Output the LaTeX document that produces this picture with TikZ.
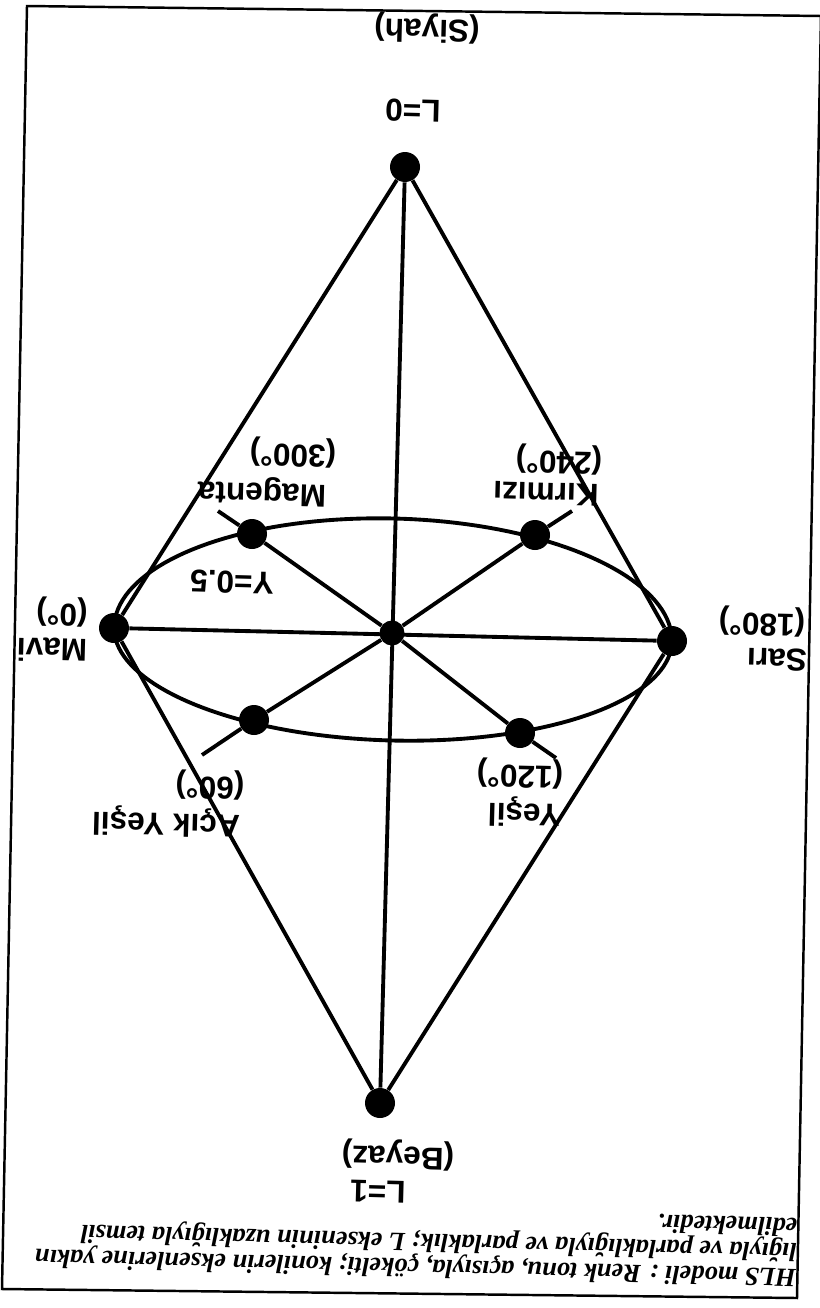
\documentclass[tikz,border=0pt]{standalone}
\usepackage{fontspec}
\setmainfont{Liberation Sans}
\newfontfamily\capfont{Liberation Serif}
\begin{document}
\begin{tikzpicture}[x=0.02cm,y=-0.02cm,
  ln/.style={line width=2.2pt, black},
  dot/.style={circle, fill=black, inner sep=0pt, minimum size=0.6cm},
  cdot/.style={circle, fill=black, inner sep=0pt, minimum size=0.5cm},
  lbl/.style={rotate=178.5, inner sep=0pt, font=\fontsize{18}{20}\selectfont\bfseries},
  frame/.style={line width=1.4pt, black}]
\useasboundingbox (0,0) rectangle (819,1308);
\fill[white] (0,0) rectangle (819,1308);
% frame
\draw[frame] (27,6) -- (821,16) -- (797,1298) -- (2,1289) -- cycle;
% nodes
\node[dot] (l0) at (405,167) {};
\node[dot] (l1) at (380,1103) {};
\node[dot] (mavi) at (114,628) {};
\node[dot] (sari) at (672,641) {};
\node[cdot] (ctr) at (392,633) {};
\node[dot] (mag) at (252,534) {};
\node[dot] (kir) at (535,535) {};
\node[dot] (yes) at (520,733) {};
\node[dot] (acik) at (254,720) {};
\coordinate (e1) at (218,511);
\coordinate (e2) at (556,758);
\coordinate (e3) at (572,511);
\coordinate (e4) at (202,755);
% connectors
\draw[ln] (l0) -- (l1);
\draw[ln] (mavi) -- (sari);
\draw[ln] (mavi) -- (l0);
\draw[ln] (sari) -- (l0);
\draw[ln] (mavi) -- (l1);
\draw[ln] (sari) -- (l1);
\draw[ln] (e1) -- (mag) -- (ctr) -- (yes) -- (e2);
\draw[ln] (e3) -- (kir) -- (ctr) -- (acik) -- (e4);
% ellipse arcs
\draw[ln] plot[domain=180:360, samples=80, variable=\t]
  ({393 + 279*cos(\t)*0.99964 - 116*sin(\t)*0.0267}, {634.5 + 279*cos(\t)*0.0267 + 116*sin(\t)*0.99964});
\draw[ln] plot[domain=0:180, samples=80, variable=\t]
  ({393 + 279*cos(\t)*0.99964 - 106*sin(\t)*0.0267}, {634.5 + 279*cos(\t)*0.0267 + 106*sin(\t)*0.99964});
% labels
\node[lbl] (tl0) at (413,111) {L=0};
\node[lbl] (tsiyah) at (427,28) {(Siyah)};
\node[lbl] (tl1) at (378,1192) {L=1};
\node[lbl] (tbeyaz) at (398,1155) {(Beyaz)};
\node[lbl] (tmavi) at (52,650) {Mavi};
\node[lbl] (tmavid) at (62,612) {(0°)};
\node[lbl] (tsari) at (777,660) {Sarı};
\node[lbl] (tsarid) at (762,622) {(180°)};
\node[lbl] (tmag) at (262,491) {Magenta};
\node[lbl] (tmagd) at (293,453) {(300°)};
\node[lbl] (tkir) at (546,494) {Kırmızı};
\node[lbl] (tkird) at (559,460) {(240°)};
\node[lbl] (tyes) at (524,812) {Yeşil};
\node[lbl] (tyesd) at (520,774) {(120°)};
\node[lbl] (tacik) at (166,822) {Açık Yeşil};
\node[lbl] (tacikd) at (210,785) {(60°)};
\node[lbl] (tl05) at (232,582) {Y=0.5};
% caption
\node[rotate=178.5, anchor=north west, align=left, inner sep=0pt,
      font=\capfont\bfseries\itshape\fontsize{15}{14.5}\selectfont] (cap) at (796,1288)
 {HLS modeli : Renk tonu, açısıyla, çökelti; konilerin eksenlerine yakın\\
  lığıyla ve parlaklığıyla ve parlaklık; L ekseninin uzaklığıyla temsil\\
  edilmektedir.};
\end{tikzpicture}
\end{document}
